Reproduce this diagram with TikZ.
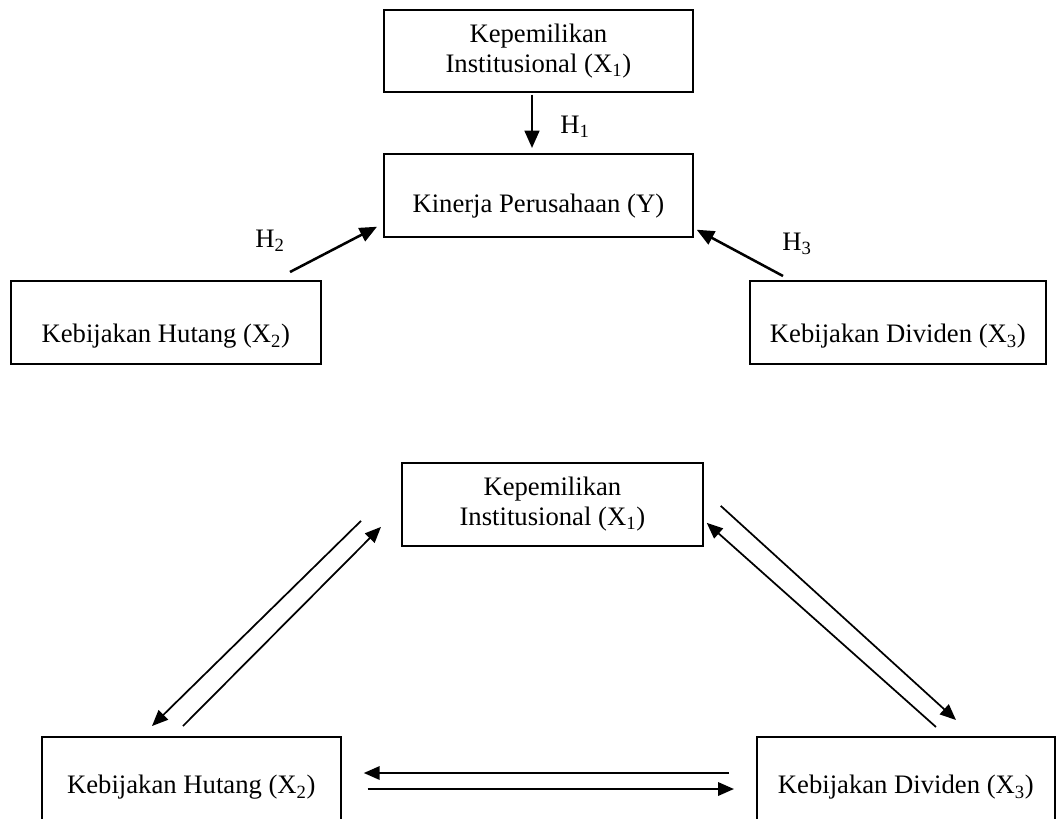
\documentclass[tikz,border=0pt]{standalone}
\usepackage{fontspec}
\setmainfont{Liberation Serif}
\usetikzlibrary{arrows.meta,calc}
\begin{document}
\begin{tikzpicture}[x=0.75pt,y=-0.75pt,
  every node/.style={font=\fontsize{20}{22.5}\selectfont},
  box/.style={draw,line width=1.3pt,rectangle,inner sep=0pt,anchor=north west,align=center},
  lbl/.style={inner sep=0pt},
  toparrow/.style={line width=1.9pt,-{Triangle[length=13pt,width=11pt]}},
  botarrow/.style={line width=1.3pt,-{Triangle[length=12pt,width=10pt]}},
  horarrow/.style={line width=1.8pt,-{Triangle[length=12pt,width=10pt]}}
]
\useasboundingbox (0,0) rectangle (1056,818);
\clip (0,0) rectangle (1056,818);
% top diagram
\node[box,minimum width=0.75*309pt,minimum height=0.75*82pt] (X1t) at (383,9) {Kepemilikan\\Institusional (X\textsubscript{1})};
\node[box,minimum width=0.75*309pt,text height=0.75*59pt,text depth=0.75*24pt] (Yt) at (383,153) {Kinerja Perusahaan (Y)};
\node[box,minimum width=0.75*310pt,text height=0.75*62pt,text depth=0.75*21pt] (Ht) at (10,280) {Kebijakan Hutang (X\textsubscript{2})};
\node[box,minimum width=0.75*296pt,text height=0.75*62pt,text depth=0.75*21pt] (Dt) at (749,280) {Kebijakan Dividen (X\textsubscript{3})};
\draw[toparrow] ($(X1t.south west)+(149,2)$) -- ($(Yt.north west)+(149,-5)$);
\draw[toparrow] ($(Ht.north west)+(280,-8)$) -- ($(Yt.south west)+(-6,-11)$);
\draw[toparrow] ($(Dt.north west)+(34,-4)$) -- ($(Yt.south east)+(3,-8)$);
\node[lbl] (h1) at (575,127) {H\textsubscript{1}};
\node[lbl] (h2) at (270,241) {H\textsubscript{2}};
\node[lbl] (h3) at (797,244) {H\textsubscript{3}};
% bottom diagram
\node[box,minimum width=0.75*301pt,minimum height=0.75*83pt] (X1b) at (401,462) {Kepemilikan\\Institusional (X\textsubscript{1})};
\node[box,minimum width=0.75*299pt,text height=0.75*57pt,text depth=0.75*50pt] (Hb) at (41,736) {Kebijakan Hutang (X\textsubscript{2})};
\node[box,minimum width=0.75*298pt,text height=0.75*57pt,text depth=0.75*50pt] (Db) at (756,736) {Kebijakan Dividen (X\textsubscript{3})};
\draw[botarrow] ($(X1b.west)+(-40,16.5)$) -- ($(Hb.north west)+(111,-10)$);
\draw[botarrow] ($(Hb.north west)+(142,-10)$) -- ($(X1b.west)+(-20,22.5)$);
\draw[botarrow] ($(X1b.east)+(17,1.5)$) -- ($(Db.north west)+(200,-16)$);
\draw[botarrow] ($(Db.north west)+(180,-9)$) -- ($(X1b.east)+(3,18.5)$);
\draw[horarrow] ($(Db.north west)+(-27,37)$) -- ($(Hb.north east)+(22,37)$);
\draw[horarrow] ($(Hb.north east)+(26,53)$) -- ($(Db.north west)+(-22,53)$);
\end{tikzpicture}
\end{document}
